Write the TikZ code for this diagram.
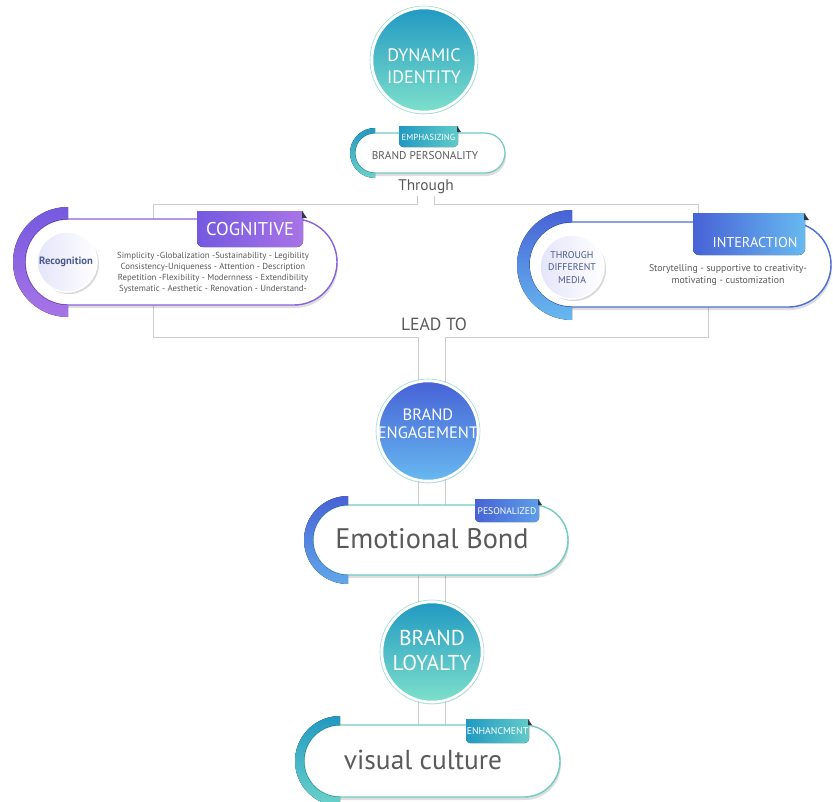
\documentclass[tikz,border=0pt]{standalone}
\usepackage{fontspec}
\setmainfont{PT Sans}
\usetikzlibrary{shadows}
\definecolor{tealA}{HTML}{2199C2}
\definecolor{tealB}{HTML}{7EE0CB}
\definecolor{blueA}{HTML}{4762D6}
\definecolor{blueB}{HTML}{67B9F0}
\definecolor{purA}{HTML}{7459E0}
\definecolor{purB}{HTML}{A874E6}
\definecolor{txtgray}{HTML}{5A5A5A}
\definecolor{connc}{HTML}{CCCCCC}
\definecolor{innertxt}{HTML}{4B5A8C}
\definecolor{tealline}{HTML}{6FCBC3}
\definecolor{purline}{HTML}{8A62D9}
\definecolor{blueline}{HTML}{4C6FD3}
\definecolor{foldc}{HTML}{2F3A48}
\newcommand\fs[2]{\fontsize{#1}{#2}\selectfont}
\begin{document}
\begin{tikzpicture}[x=1pt,y=-1pt,
  conn/.style={draw=connc,line width=1pt},
  pillbox/.style={rectangle,fill=white,line width=1.4pt,inner sep=0pt,
    drop shadow={shadow xshift=1pt,shadow yshift=-3pt,opacity=.13,fill=black}},
  bigcirc/.style={circle,draw=white,line width=2.5pt,inner sep=0pt,
    drop shadow={shadow xshift=1pt,shadow yshift=-2pt,opacity=.10,fill=black}},
  innercirc/.style={circle,left color=gray!30!blue!12,right color=white,draw=white,line width=1.5pt,inner sep=0pt,
    drop shadow={shadow xshift=2pt,shadow yshift=-2pt,opacity=.15,fill=black}},
  circtext/.style={text=white,align=center,inner sep=0pt},
  tabtext/.style={text=white,inner sep=0pt},
  graytext/.style={text=txtgray,align=center,inner sep=0pt},
  fold/.style={fill=foldc}]
\useasboundingbox (0,0) rectangle (833,801);
\fill[white] (0,0) rectangle (833,801);

% ---------- connectors ----------
\coordinate (tl0) at (417,196); \coordinate (tl1) at (417,204);
\coordinate (tl2) at (153,204); \coordinate (tl3) at (153,337);
\coordinate (tl4) at (418,337); \coordinate (tl5) at (418,725);
\coordinate (tr0) at (434,196); \coordinate (tr1) at (434,204);
\coordinate (tr2) at (698,204); \coordinate (tr3) at (698,265);
\coordinate (tr4) at (708,265); \coordinate (tr5) at (708,337);
\coordinate (tr6) at (445,337); \coordinate (tr7) at (445,725);
\draw[conn] (tl0) -- (tl1) -- (tl2) -- (tl3) -- (tl4) -- (tl5);
\draw[conn] (tr0) -- (tr1) -- (tr2) -- (tr3);
\draw[conn] (tr4) -- (tr5) -- (tr6) -- (tr7);

% ---------- brand personality ----------
\node[pillbox,draw=tealline,line width=1.2pt,minimum width=150pt,minimum height=40pt,rounded corners=20pt] (bppill) at (430,153) {};
\fill[top color=tealA,bottom color=tealB!80!tealA] (375,128) arc[start angle=90,end angle=270,radius=25pt] -- (375,173) arc[start angle=270,end angle=90,radius=20pt] -- cycle;
\fill[left color=tealA,right color=tealB!70!tealA] (399,126) -- (458,126) -- (458,143) arc[start angle=0,end angle=-90,radius=4pt] -- (403,147) arc[start angle=270,end angle=180,radius=4pt] -- cycle;
\fill[fold] (457,126) -- (461,132) -- (457,132) -- cycle;
\node[tabtext,font=\fs{8.8}{9}] (emph) at (428.5,137) {EMPHASIZING};
\node[graytext,font=\fs{11.3}{12}] (bp) at (425,156) {BRAND PERSONALITY};
\node[graytext,font=\fs{15.4}{16}] (through) at (426,187) {Through};

% ---------- cognitive ----------
\node[pillbox,draw=purline,minimum width=312pt,minimum height=86pt,rounded corners=43pt] (cogpill) at (181,262) {};
\fill[top color=purA,bottom color=purB] (68,207) arc[start angle=90,end angle=270,radius=55pt] -- (68,305) arc[start angle=270,end angle=90,radius=43pt] -- cycle;
\fill[left color=purA,right color=purB] (197,211) -- (303,211) -- (303,241) arc[start angle=0,end angle=-90,radius=6pt] -- (203,247) arc[start angle=270,end angle=180,radius=6pt] -- cycle;
\fill[fold] (302,211) -- (307,218) -- (302,218) -- cycle;
\node[tabtext,font=\fs{18.5}{19}] (cog) at (250,229) {COGNITIVE};
\node[innercirc,minimum size=60pt] (recog) at (67,262) {};
\node[text=innertxt,font=\bfseries\fs{10.6}{11},inner sep=0pt] (recogt) at (66,262) {Recognition};
\node[graytext,font=\fs{8.8}{11}] (cogdesc) at (213,273) {Simplicity -Globalization -Sustainability - Legibility\\Consistency-Uniqueness - Attention - Description\\Repetition -Flexibility - Modernness - Extendibility\\Systematic - Aesthetic - Renovation - Understand-};

% ---------- interaction ----------
\node[pillbox,draw=blueline,minimum width=302pt,minimum height=85pt,rounded corners=42.5pt] (intpill) at (680,264.5) {};
\fill[top color=blueA,bottom color=blueB] (572,210) arc[start angle=90,end angle=270,radius=55pt] -- (572,307) arc[start angle=270,end angle=90,radius=42.5pt] -- cycle;
\fill[left color=blueA,right color=blueB] (693,213) -- (805,213) -- (805,249) arc[start angle=0,end angle=-90,radius=6pt] -- (699,255) arc[start angle=270,end angle=180,radius=6pt] -- cycle;
\fill[fold] (804,213) -- (809,220) -- (804,220) -- cycle;
\node[tabtext,font=\fs{14.3}{15}] (inter) at (755,242) {INTERACTION};
\node[innercirc,minimum size=64pt] (media) at (572,267) {};
\node[text=innertxt,font=\fs{9.8}{12.5},align=center,inner sep=0pt] (mediat) at (572,267.5) {THROUGH\\DIFFERENT\\MEDIA};
\node[graytext,font=\fs{9.8}{11.5}] (intdesc) at (728,275) {Storytelling - supportive to creativity-\\motivating - customization};

% ---------- lead to ----------
\node[graytext,font=\fs{17.6}{18}] (leadto) at (434,324) {LEAD TO};

% ---------- emotional bond ----------
\node[pillbox,draw=tealline,minimum width=255pt,minimum height=70pt,rounded corners=35pt] (embpill) at (440.5,540) {};
\fill[top color=blueA,bottom color=blueB!80!blueA] (348,496) arc[start angle=90,end angle=270,radius=44pt] -- (348,575) arc[start angle=270,end angle=90,radius=35pt] -- cycle;
\fill[left color=blueA,right color=blueB!70!blueA] (475,499) -- (539,499) -- (539,518) arc[start angle=0,end angle=-90,radius=4pt] -- (479,522) arc[start angle=270,end angle=180,radius=4pt] -- cycle;
\fill[fold] (538,499) -- (542,505) -- (538,505) -- cycle;
\node[tabtext,font=\fs{9.6}{10}] (peson) at (507,511) {PESONALIZED};
\node[graytext,font=\fs{28.3}{29}] (emb) at (432,539) {Emotional Bond};

% ---------- visual culture ----------
\node[pillbox,draw=tealline,minimum width=256pt,minimum height=72pt,rounded corners=36pt] (vcpill) at (432,761) {};
\fill[top color=tealA,bottom color=tealB!80!tealA] (340,716) arc[start angle=90,end angle=270,radius=45pt] -- (340,797) arc[start angle=270,end angle=90,radius=36pt] -- cycle;
\fill[left color=tealA,right color=tealB!70!tealA] (466,719) -- (529,719) -- (529,739) arc[start angle=0,end angle=-90,radius=4pt] -- (470,743) arc[start angle=270,end angle=180,radius=4pt] -- cycle;
\fill[fold] (528,719) -- (532,725) -- (528,725) -- cycle;
\node[tabtext,font=\fs{9.8}{10}] (enh) at (497.5,731) {ENHANCMENT};
\node[graytext,font=\fs{27.4}{28}] (vc) at (423,760) {visual culture};

% ---------- circles ----------
\node[bigcirc,top color=tealA,bottom color=tealB,minimum size=104pt] (dyn) at (424,60) {};
\draw[tealline!70,line width=.6pt] (dyn.center) circle[radius=54pt];
\node[circtext,font=\fs{18}{22}] (dynt) at (424,66) {DYNAMIC\\IDENTITY};

\node[bigcirc,top color=blueA,bottom color=blueB,minimum size=100pt] (eng) at (428,431) {};
\draw[tealline!70,line width=.6pt] (eng.center) circle[radius=52pt];
\node[circtext,font=\fs{16.5}{18}] (engt) at (428,424) {BRAND\\ENGAGEMENT};

\node[bigcirc,top color=tealA,bottom color=tealB,minimum size=100pt] (loy) at (432,652) {};
\draw[tealline!70,line width=.6pt] (loy.center) circle[radius=52pt];
\node[circtext,font=\fs{21.5}{25}] (loyt) at (432,650) {BRAND\\LOYALTY};
\end{tikzpicture}
\end{document}
